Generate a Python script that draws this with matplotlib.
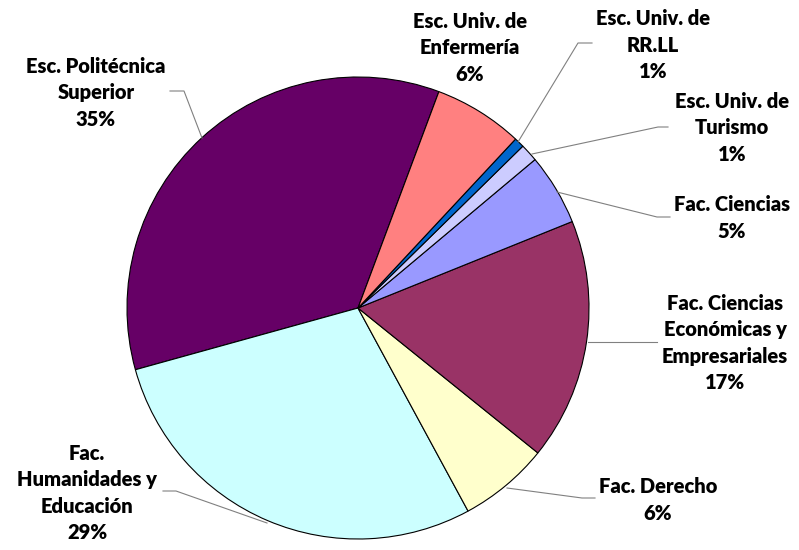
import matplotlib
matplotlib.use("Agg")
import matplotlib.pyplot as plt

categories = ["Esc. Politécnica\nSuperior", "Fac.\nHumanidades y\nEducación", "Fac. Derecho",
              "Fac. Ciencias\nEconómicas y\nEmpresariales", "Fac. Ciencias",
              "Esc. Univ. de\nTurismo", "Esc. Univ. de\nRR.LL", "Esc. Univ. de\nEnfermería"]
values = [35.0, 28.6, 6.3, 16.9, 5.0, 1.25, 0.7, 6.25]
colors = ["#660066", "#CCFFFF", "#FFFFCC", "#993366", "#9999FF", "#CCCCFF", "#0066CC", "#FF8080"]

W, H = 799, 550
fig = plt.figure(figsize=(W / 100, H / 100), dpi=100)
ax = fig.add_axes([0, 0, 1, 1])
ax.set_xlim(0, W)
ax.set_ylim(0, H)
ax.set_aspect("equal")
ax.axis("off")

cx, cy, r = 358, H - 308, 231
ax.pie(values, colors=colors, startangle=69.5, counterclock=True,
       center=(cx, cy), radius=r, frame=True,
       wedgeprops=dict(edgecolor="black", linewidth=0.8))
ax.set_xlim(0, W)
ax.set_ylim(0, H)
ax.axis("off")

total = sum(values)
# label anchor positions (pixel coords, y from top)
label_pos = [(96, 93), (87, 493), (658, 500), (725, 343), (732, 218), (732, 128), (653, 45), (470, 48)]
leaders = [
    [(170, 91), (184, 91), (202, 138)],
    [(163, 491), (176, 491), (267, 523)],
    [(595, 498), (582, 498), (507, 488)],
    [(657, 342), (588, 342)],
    [(670, 217), (657, 217), (557, 192)],
    [(668, 127), (658, 127), (532, 154)],
    [(592, 43), (578, 43), (518, 142)],
    None,
]
for cat, v, (lx, ly), ld in zip(categories, values, label_pos, leaders):
    pct = round(100 * v / total)
    ax.text(lx, H - ly, f"{cat}\n{pct}%", ha="center", va="center", fontsize=14.5,
            fontweight="heavy", family=["Lato", "DejaVu Sans"], linespacing=1.47, color="#000000")
    if ld:
        xs = [p[0] for p in ld]
        ys = [H - p[1] for p in ld]
        ax.plot(xs, ys, color="#808080", lw=0.8)

fig.savefig("out.png", dpi=100)
